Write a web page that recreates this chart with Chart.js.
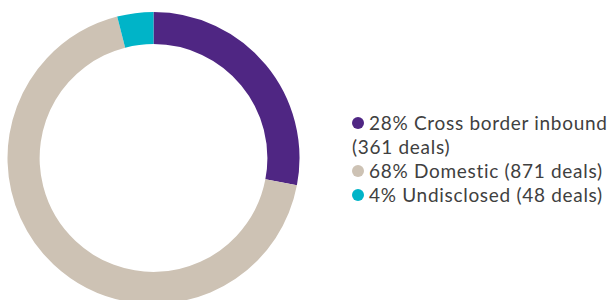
<!DOCTYPE html>
<html lang="en">
<head>
  <meta charset="UTF-8">
  <title>Deals by origin</title>
  <script src="https://cdn.jsdelivr.net/npm/chart.js"></script>
  <style>
    html, body {
      margin: 0;
      padding: 0;
      background: #ffffff;
      width: 609px;
      height: 300px;
      overflow: hidden;
      position: relative;
      font-family: Lato, "Noto Sans", Arial, sans-serif;
    }

    .grafico {
      position: absolute;
      left: 0;
      top: 12px;
      width: 307px;
      height: 292px;
    }

    .legenda {
      position: absolute;
      left: 352px;
      top: 111px;
      width: 262px;
      color: #404040;
      font-size: 19px;
      line-height: 24px;
      letter-spacing: 0.7px;
    }

    .legenda .bola {
      display: inline-block;
      width: 12px;
      height: 12px;
      border-radius: 50%;
      margin-right: 5px;
      vertical-align: 1px;
    }
  </style>
</head>
<body>
  <div class="grafico">
    <canvas id="donutChart"></canvas>
  </div>
  <div class="legenda" id="legenda"></div>

  <script>
    const categorias = ['Cross border inbound', 'Domestic', 'Undisclosed'];
    const percentuais = [28, 68, 4];
    const negocios = [361, 871, 48];
    const cores = ['#4f2683', '#cdc2b4', '#00b4c8'];

    new Chart(document.getElementById('donutChart').getContext('2d'), {
      type: 'doughnut',
      data: {
        labels: categorias,
        datasets: [{
          data: percentuais,
          backgroundColor: cores,
          borderWidth: 0
        }]
      },
      options: {
        responsive: true,
        maintainAspectRatio: false,
        animation: false,
        cutout: '78%',
        layout: { padding: 0 },
        plugins: {
          legend: { display: false },
          tooltip: { enabled: false }
        }
      }
    });

    // legenda feita em HTML porque o texto quebra linha
    const legenda = document.getElementById('legenda');
    categorias.forEach((nome, i) => {
      const linha = document.createElement('div');
      linha.innerHTML = `<span class="bola" style="background:${cores[i]}"></span>${percentuais[i]}% ${nome} (${negocios[i]} deals)`;
      legenda.appendChild(linha);
    });
  </script>
</body>
</html>
